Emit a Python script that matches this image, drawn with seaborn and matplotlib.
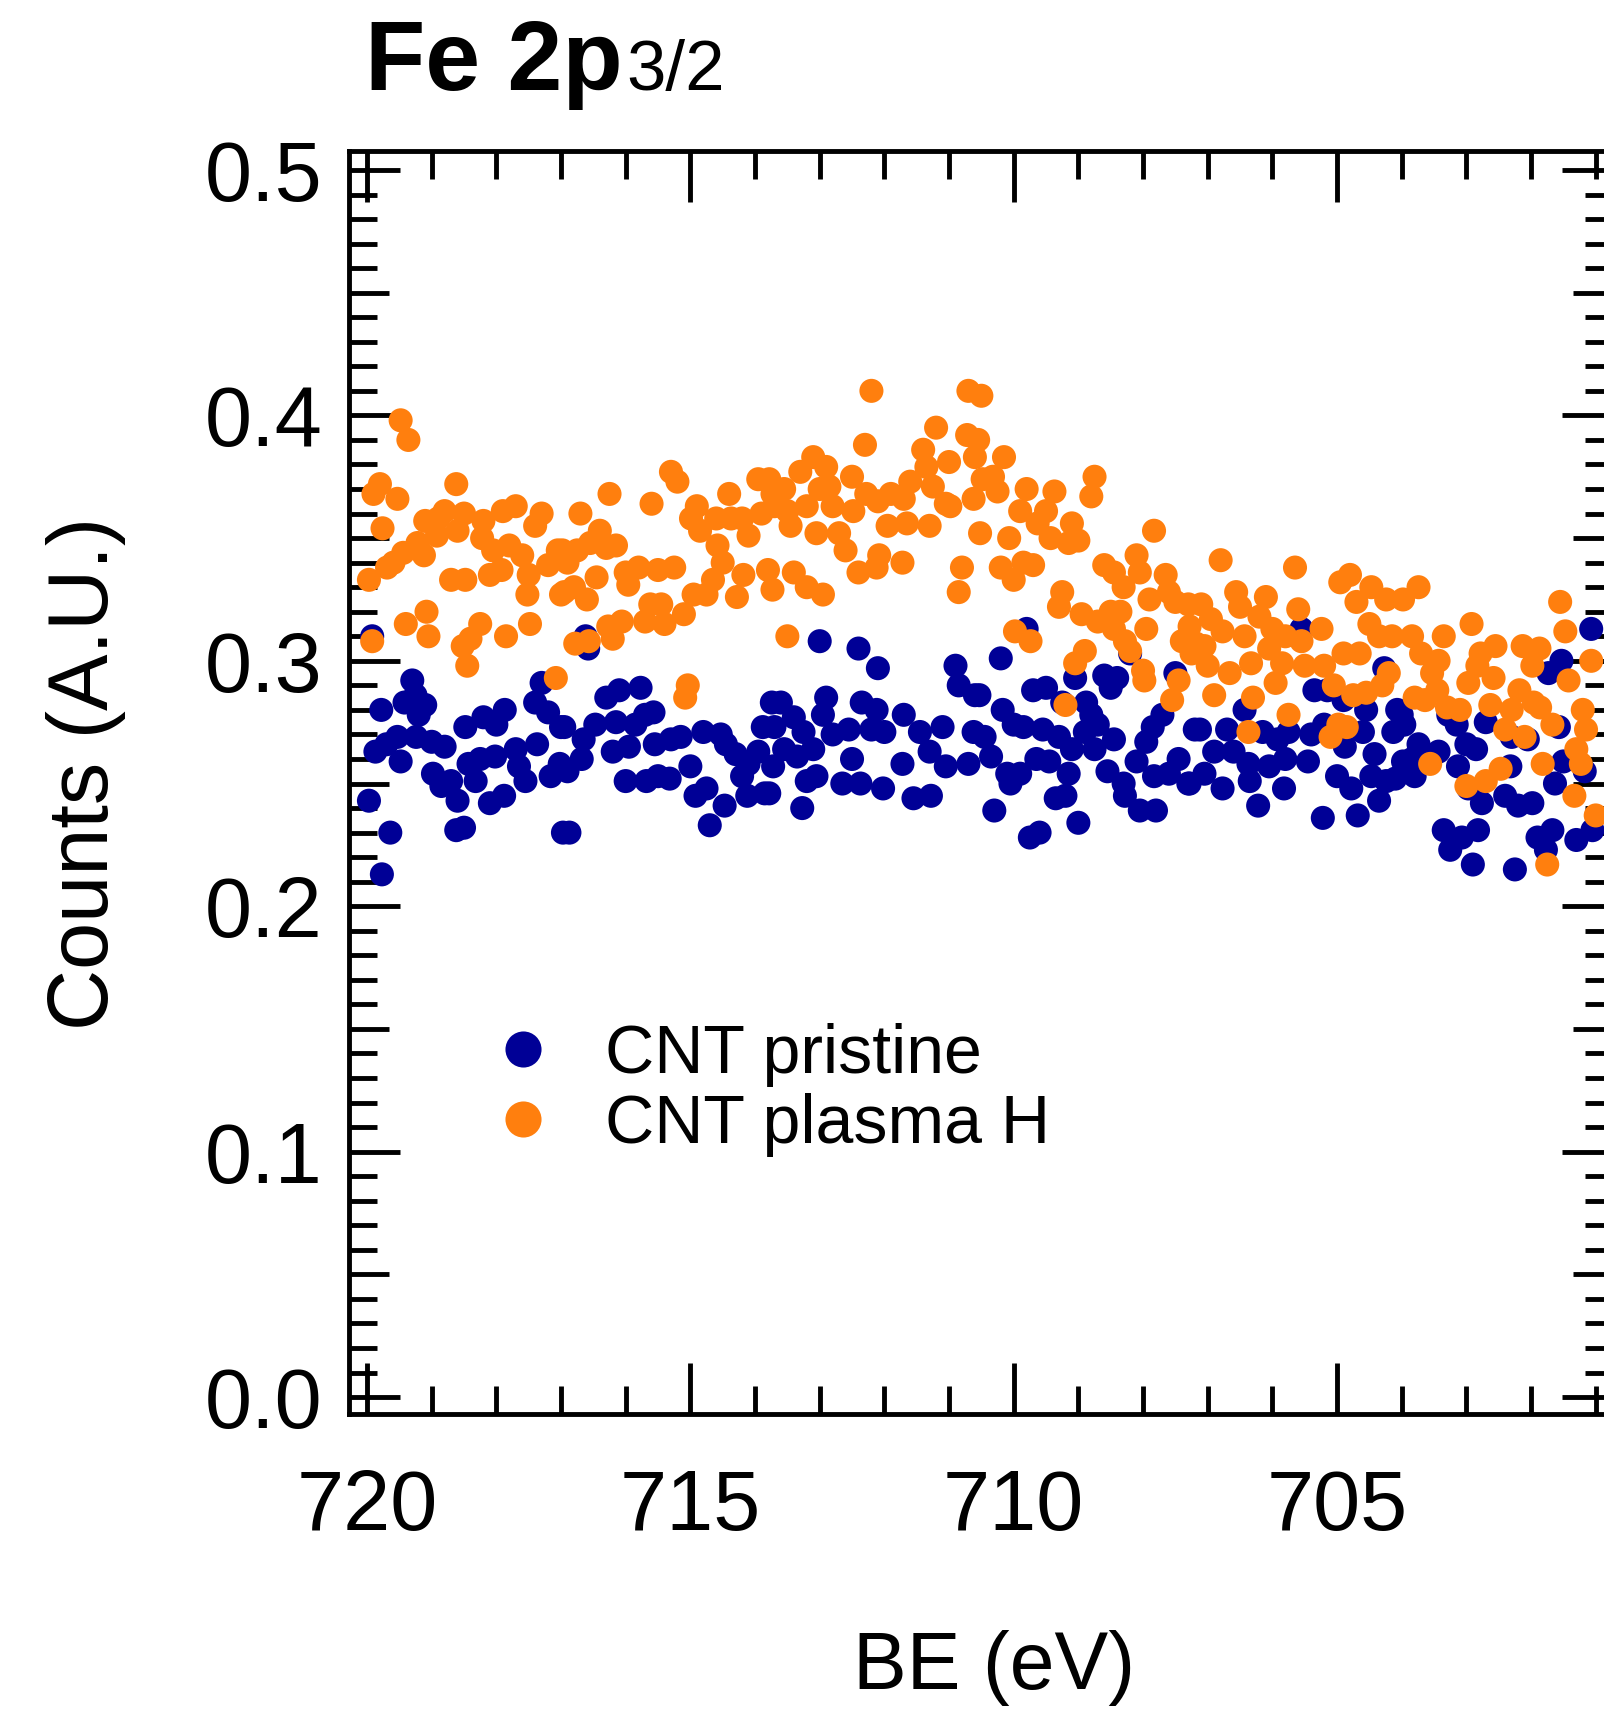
import numpy as np
import pandas as pd
import matplotlib
matplotlib.use("Agg")
import matplotlib.pyplot as plt
import seaborn as sns
from matplotlib.ticker import MultipleLocator, FixedLocator, FormatStrFormatter

# ---------------- data ----------------
pristine_be = [
    719.92, 719.30, 719.78, 719.42, 719.25, 719.10, 719.20, 719.87, 719.70, 719.53,
    719.48, 719.24, 719.00, 718.80, 718.98, 718.85, 718.70, 718.60, 719.97, 719.64,
    719.77, 718.62, 718.50, 718.48, 718.20, 717.87, 718.00, 718.43, 718.25, 718.32,
    718.10, 717.88, 718.02, 717.70, 717.65, 717.55, 717.37, 717.16, 717.30, 717.40,
    717.20, 717.00, 716.97, 717.02,
    716.62, 716.58, 716.30, 716.10, 715.77, 715.57, 715.70, 716.95, 716.47, 716.15,
    715.85, 716.65, 716.20, 715.95, 716.68, 716.90, 715.55, 715.30, 715.15, 714.80,
    714.53, 714.45, 714.30, 714.10, 713.95, 713.88, 713.74, 716.00, 715.68, 715.32,
    715.50, 715.00, 714.92, 714.75, 714.47, 714.70, 714.12, 713.85, 716.87, 714.20,
    713.00, 712.40, 712.10, 710.90, 710.85, 710.60, 713.60, 712.90, 712.95, 712.35,
    712.12, 711.70, 713.40, 713.70, 713.25, 712.80, 712.55, 712.20, 712.00, 711.45,
    711.10, 710.62, 713.55, 713.35, 713.10, 712.50, 711.72, 711.30, 711.05, 710.70,
    713.72, 713.20, 713.05, 712.65, 712.37, 712.02, 711.55, 711.28, 713.78, 713.27,
    709.80, 710.20, 710.53, 709.05, 708.60, 708.40, 708.50, 708.20, 707.50, 709.70,
    709.50, 709.25, 708.88, 708.80, 707.70, 710.17, 710.45, 710.00, 709.85, 709.55,
    709.30, 708.90, 708.70, 708.45, 708.75, 709.10, 707.85, 707.95, 707.20, 710.35,
    709.65, 709.45, 710.10, 709.90, 710.05, 709.15, 708.55, 708.30, 708.10, 707.83,
    707.60, 707.45, 707.30, 709.35, 709.20, 708.28, 708.05, 707.80, 710.30, 709.75,
    709.60, 709.00,
    705.55, 705.35, 705.15, 704.90, 704.55, 704.27, 704.07, 706.43, 707.12, 706.70,
    706.15, 705.92, 705.75, 705.40, 705.20, 704.60, 704.13, 706.90, 706.60, 706.37,
    706.05, 705.80, 705.45, 704.88, 704.42, 703.98, 707.28, 707.05, 706.77, 706.35,
    705.82, 705.00, 704.78, 704.47, 704.24, 704.35, 706.22, 705.22, 704.68,
    701.07, 701.53, 701.73, 704.00, 703.96, 703.28, 703.15, 702.70, 702.05, 702.30,
    701.57, 703.74, 703.43, 703.00, 702.85, 703.84, 703.80, 703.13, 702.32, 701.50,
    701.17, 701.63, 704.10, 702.97, 702.76, 702.40, 702.20, 701.98, 701.30, 701.05,
    703.35, 703.07, 702.82, 703.25, 702.90, 701.90, 701.67, 701.77, 702.25,
]
pristine_counts = [
    0.310, 0.292, 0.280, 0.283, 0.286, 0.282, 0.278, 0.263, 0.266, 0.269,
    0.259, 0.269, 0.267, 0.265, 0.254, 0.249, 0.251, 0.243, 0.243, 0.230,
    0.213, 0.231, 0.232, 0.273, 0.277, 0.280, 0.274, 0.258, 0.260, 0.251,
    0.242, 0.245, 0.261, 0.264, 0.257, 0.251, 0.266, 0.253, 0.291, 0.283,
    0.279, 0.273, 0.230, 0.258,
    0.310, 0.305, 0.285, 0.288, 0.289, 0.279, 0.278, 0.273, 0.274, 0.275,
    0.274, 0.268, 0.263, 0.265, 0.260, 0.255, 0.266, 0.268, 0.269, 0.271,
    0.270, 0.266, 0.262, 0.258, 0.263, 0.273, 0.283, 0.251, 0.251, 0.252,
    0.253, 0.257, 0.245, 0.248, 0.241, 0.233, 0.245, 0.246, 0.230, 0.253,
    0.308, 0.305, 0.297, 0.298, 0.290, 0.286, 0.283, 0.285, 0.278, 0.283,
    0.280, 0.278, 0.277, 0.273, 0.271, 0.270, 0.272, 0.272, 0.271, 0.271,
    0.273, 0.271, 0.264, 0.261, 0.264, 0.260, 0.258, 0.263, 0.257, 0.258,
    0.257, 0.251, 0.253, 0.250, 0.250, 0.248, 0.244, 0.245, 0.246, 0.240,
    0.313, 0.301, 0.286, 0.293, 0.294, 0.293, 0.289, 0.303, 0.295, 0.288,
    0.289, 0.283, 0.283, 0.278, 0.278, 0.280, 0.269, 0.274, 0.273, 0.272,
    0.269, 0.271, 0.274, 0.268, 0.264, 0.264, 0.273, 0.267, 0.272, 0.261,
    0.260, 0.259, 0.254, 0.254, 0.250, 0.254, 0.255, 0.250, 0.259, 0.253,
    0.254, 0.260, 0.250, 0.244, 0.245, 0.245, 0.239, 0.239, 0.239, 0.228,
    0.230, 0.234,
    0.313, 0.288, 0.288, 0.284, 0.280, 0.297, 0.280, 0.280, 0.272, 0.272,
    0.271, 0.268, 0.271, 0.270, 0.274, 0.271, 0.271, 0.263, 0.263, 0.258,
    0.257, 0.260, 0.259, 0.265, 0.262, 0.259, 0.250, 0.254, 0.248, 0.251,
    0.248, 0.253, 0.248, 0.253, 0.251, 0.243, 0.241, 0.236, 0.237,
    0.313, 0.300, 0.295, 0.278, 0.274, 0.278, 0.274, 0.275, 0.268, 0.269,
    0.273, 0.266, 0.263, 0.266, 0.264, 0.260, 0.253, 0.257, 0.257, 0.259,
    0.255, 0.250, 0.252, 0.248, 0.242, 0.245, 0.241, 0.242, 0.227, 0.231,
    0.231, 0.228, 0.231, 0.223, 0.217, 0.228, 0.231, 0.223, 0.215,
]
plasma_be = [
    719.48, 719.36, 719.80, 719.90, 719.53, 719.76, 719.97, 719.92, 719.69, 719.59,
    719.44, 719.22, 719.12, 719.10, 718.90, 718.80, 718.92, 718.60, 718.62, 718.50,
    718.20, 718.22, 718.05, 717.90, 717.70, 717.80, 717.60, 717.30, 717.40, 717.50,
    717.52, 717.20, 717.05, 717.00, 718.70, 718.48, 718.10, 717.92, 719.08, 719.40,
    719.05, 718.52, 718.40, 718.25, 718.45, 717.85, 717.48, 717.08,
    716.98, 716.90, 716.70, 716.75, 716.40, 716.55, 716.25, 716.15, 716.30, 716.95,
    716.80, 716.60, 716.45, 716.00, 715.96, 715.80, 715.60, 715.50, 715.25, 715.30,
    715.20, 715.62, 715.45, 715.70, 715.40, 715.10, 716.78, 716.57, 716.27, 716.20,
    716.06, 715.08, 715.04, 714.90, 714.99, 714.85, 714.60, 714.37, 714.40, 714.20,
    714.10, 713.95, 713.90, 713.73, 714.58, 714.50, 714.65, 714.95, 714.75, 714.28,
    714.18, 713.80, 713.73,
    712.20, 710.70, 710.50, 711.20, 710.72, 712.30, 711.40, 711.35, 711.00, 710.60,
    713.10, 713.30, 712.90, 712.50, 713.55, 713.00, 712.85, 713.78, 713.70, 713.50,
    713.20, 712.80, 712.48, 712.28, 712.10, 711.90, 711.70, 711.60, 711.25, 711.05,
    710.98, 710.62, 710.48, 713.45, 713.05, 712.70, 711.95, 711.65, 711.30, 710.52,
    712.60, 712.08, 712.40, 712.12, 711.72, 713.40, 713.20, 712.95, 710.80, 710.85,
    713.50,
    710.55, 710.15, 710.32, 710.25, 709.80, 709.37, 708.75, 708.80, 709.90, 709.50,
    709.63, 709.10, 710.07, 709.43, 709.15, 709.00, 707.83, 710.20, 710.00, 709.70,
    709.85, 708.60, 708.45, 708.30, 708.10, 708.05, 707.65, 709.25, 709.30, 708.95,
    708.70, 708.50, 708.35, 708.45, 708.28, 708.20, 707.95, 707.90, 707.60, 707.50,
    707.30, 707.40, 707.25, 709.98, 709.74, 708.90, 709.05, 708.00, 707.98, 707.45,
    707.55, 709.20,
    706.80, 705.65, 704.95, 704.80, 704.70, 704.47, 704.24, 703.98, 707.10, 706.56,
    706.50, 706.10, 705.60, 707.28, 706.95, 706.77, 706.43, 706.20, 706.00, 705.80,
    705.55, 705.24, 704.50, 704.35, 704.15, 707.18, 707.05, 707.00, 706.66, 706.33,
    706.05, 705.85, 705.50, 705.20, 704.90, 704.65, 704.20, 706.90, 706.30, 705.95,
    705.05, 704.75, 704.55, 704.30, 705.75, 706.37, 705.10, 704.85, 704.98,
    703.74, 702.92, 703.35, 701.55, 701.47, 701.07, 703.84, 703.70, 703.43, 703.53,
    702.55, 702.78, 702.13, 701.87, 701.98, 702.83, 702.58, 702.97, 701.42, 703.45,
    703.80, 703.64, 702.18, 703.30, 703.10, 702.63, 702.30, 701.96, 701.86, 701.67,
    701.20, 701.15, 702.40, 702.10, 701.30, 701.23, 703.56, 701.82, 702.47, 702.70,
    703.00, 701.33, 701.00, 701.75,
]
plasma_counts = [
    0.398, 0.390, 0.372, 0.368, 0.366, 0.354, 0.333, 0.308, 0.338, 0.340,
    0.344, 0.348, 0.343, 0.357, 0.358, 0.361, 0.351, 0.353, 0.372, 0.360,
    0.357, 0.350, 0.345, 0.361, 0.363, 0.347, 0.343, 0.360, 0.355, 0.335,
    0.327, 0.339, 0.345, 0.327, 0.333, 0.333, 0.335, 0.337, 0.320, 0.315,
    0.310, 0.306, 0.309, 0.315, 0.298, 0.310, 0.315, 0.293,
    0.345, 0.340, 0.360, 0.345, 0.353, 0.348, 0.368, 0.347, 0.346, 0.328,
    0.330, 0.325, 0.334, 0.336, 0.331, 0.338, 0.364, 0.337, 0.338, 0.377,
    0.373, 0.323, 0.323, 0.316, 0.315, 0.319, 0.307, 0.308, 0.314, 0.309,
    0.316, 0.285, 0.290, 0.363, 0.358, 0.353, 0.358, 0.358, 0.368, 0.358,
    0.351, 0.374, 0.360, 0.368, 0.347, 0.340, 0.333, 0.327, 0.327, 0.326,
    0.335, 0.337, 0.329,
    0.410, 0.410, 0.408, 0.395, 0.392, 0.388, 0.386, 0.379, 0.381, 0.383,
    0.383, 0.377, 0.379, 0.375, 0.370, 0.370, 0.371, 0.374, 0.363, 0.361,
    0.363, 0.363, 0.361, 0.368, 0.365, 0.368, 0.366, 0.373, 0.371, 0.364,
    0.363, 0.366, 0.374, 0.355, 0.352, 0.352, 0.355, 0.356, 0.355, 0.352,
    0.345, 0.343, 0.336, 0.338, 0.340, 0.336, 0.330, 0.327, 0.338, 0.328,
    0.310,
    0.390, 0.383, 0.375, 0.369, 0.370, 0.369, 0.375, 0.367, 0.361, 0.361,
    0.356, 0.356, 0.350, 0.350, 0.348, 0.349, 0.353, 0.338, 0.333, 0.339,
    0.340, 0.339, 0.336, 0.330, 0.343, 0.336, 0.335, 0.328, 0.322, 0.319,
    0.316, 0.320, 0.320, 0.313, 0.308, 0.304, 0.313, 0.325, 0.328, 0.324,
    0.323, 0.308, 0.303, 0.312, 0.308, 0.304, 0.299, 0.296, 0.292, 0.292,
    0.284, 0.282,
    0.341, 0.338, 0.332, 0.335, 0.324, 0.330, 0.325, 0.325, 0.323, 0.328,
    0.322, 0.326, 0.321, 0.314, 0.317, 0.312, 0.310, 0.318, 0.313, 0.310,
    0.308, 0.313, 0.315, 0.310, 0.310, 0.307, 0.306, 0.298, 0.295, 0.299,
    0.305, 0.299, 0.298, 0.298, 0.303, 0.303, 0.295, 0.286, 0.285, 0.291,
    0.290, 0.286, 0.287, 0.290, 0.278, 0.271, 0.269, 0.273, 0.274,
    0.330, 0.315, 0.310, 0.324, 0.312, 0.300, 0.310, 0.303, 0.300, 0.295,
    0.306, 0.303, 0.306, 0.305, 0.298, 0.298, 0.293, 0.291, 0.292, 0.288,
    0.285, 0.284, 0.288, 0.281, 0.280, 0.282, 0.280, 0.283, 0.281, 0.274,
    0.280, 0.272, 0.272, 0.269, 0.264, 0.258, 0.258, 0.258, 0.256, 0.251,
    0.249, 0.245, 0.237, 0.217,
]
series_names = ["CNT pristine", "CNT plasma H"]
series_colors = ["#000096", "#ff7f0e"]
x_major_step = 5
x_minor_step = 1
y_major_step = 0.1
y_medium_ticks = [0.05, 0.15, 0.25, 0.35, 0.45]
y_minor_ticks = [round(0.01 * i, 2) for i in range(51) if i % 5 != 0]

# ---------------- style ----------------
sns.set_style("white")
plt.rcParams["font.family"] = ["Liberation Sans", "DejaVu Sans"]
plt.rcParams["text.color"] = "black"
plt.rcParams["axes.labelcolor"] = "black"
plt.rcParams["xtick.color"] = "black"
plt.rcParams["ytick.color"] = "black"

df = pd.concat(
    [
        pd.DataFrame({"BE": pristine_be, "Counts": pristine_counts, "Sample": series_names[0]}),
        pd.DataFrame({"BE": plasma_be, "Counts": plasma_counts, "Sample": series_names[1]}),
    ],
    ignore_index=True,
)

fig = plt.figure(figsize=(16.04, 17.09), dpi=100)
ax = fig.add_axes([0.2176, 0.1726, 0.788, 0.739])

sns.scatterplot(
    data=df, x="BE", y="Counts", hue="Sample",
    palette=dict(zip(series_names, series_colors)),
    s=300, linewidth=0, edgecolor="none", ax=ax, legend=True,
)

ax.set_xlim(720.278, 700.733)
ax.set_ylim(-0.0069, 0.5077)

ax.xaxis.set_major_locator(MultipleLocator(x_major_step))
ax.xaxis.set_minor_locator(MultipleLocator(x_minor_step))
ax.yaxis.set_major_locator(MultipleLocator(y_major_step))
ax.yaxis.set_minor_locator(FixedLocator(y_minor_ticks))
ax.xaxis.set_major_formatter(FormatStrFormatter("%d"))
ax.yaxis.set_major_formatter(FormatStrFormatter("%.1f"))

LW = 3.5
ax.tick_params(axis="both", which="both", direction="in", top=True, right=True,
               bottom=True, left=True, width=LW, color="black")
ax.tick_params(axis="both", which="major", length=37, labelsize=61, labelcolor="black")
ax.tick_params(axis="both", which="minor", length=20)
ax.tick_params(axis="x", which="major", pad=39)
ax.tick_params(axis="y", which="major", pad=19)
for sp in ax.spines.values():
    sp.set_linewidth(LW)
    sp.set_color("black")
    sp.set_visible(True)

# medium-length ticks at the half-decades of the y axis (both sides)
for side in ("left", "right"):
    sec = ax.secondary_yaxis(side)
    sec.set_yticks(y_medium_ticks)
    sec.tick_params(axis="y", which="major", direction="in", length=29, width=LW,
                    color="black", labelleft=False, labelright=False)
    sec.minorticks_off()
    sec.spines[side].set_visible(False)

ax.set_xlabel("BE (eV)", fontsize=58, color="black")
ax.xaxis.set_label_coords(0.510, -0.171)
ax.set_ylabel("Counts (A.U.)", fontsize=61, color="black")
ax.yaxis.set_label_coords(-0.1764, 0.5075)

# title: bold "Fe 2p" followed by a smaller regular "3/2"
t_main = fig.text(0.2276, 0.9473, "Fe 2p", fontsize=71, fontweight="bold",
                  ha="left", va="baseline", color="black")
fig.canvas.draw()
bb = t_main.get_window_extent(renderer=fig.canvas.get_renderer())
fig.text(bb.x1 / fig.bbox.width + 0.002, 0.9473, "3/2", fontsize=51,
         ha="left", va="baseline", color="black")

old = ax.get_legend()
handles = list(old.legend_handles)
labels = [t.get_text() for t in old.get_texts()]
leg = ax.legend(handles, labels, loc="upper left", bbox_to_anchor=(0.111, 0.310),
                frameon=False, fontsize=49, markerscale=1.5, handlelength=1.0,
                handletextpad=0.7, labelspacing=0.1, borderpad=0, borderaxespad=0)
for t in leg.get_texts():
    t.set_color("black")

fig.savefig("out.png", dpi=100)
